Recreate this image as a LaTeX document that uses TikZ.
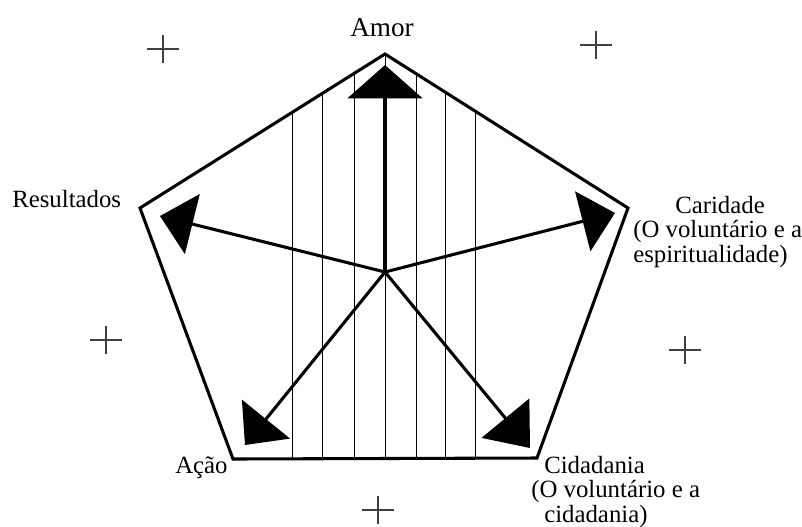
\documentclass[tikz,border=0pt]{standalone}
\usepackage{fontspec}
\setmainfont{Liberation Serif}
\usetikzlibrary{arrows.meta}

\begin{document}
\begin{tikzpicture}[
    x=0.75pt, y=-0.75pt,
    lbl/.style={font=\fontsize{18.6}{18.2}\selectfont, inner sep=0pt, align=left},
    edge/.style={line width=2.3pt},
    ar/.style={line width=2.3pt, -{Triangle[length=25pt, width=46pt]}},
    hatch/.style={line width=0.7pt},
    cross/.style={line width=1.4pt, black!75}
  ]
  \useasboundingbox (0,0) rectangle (802,526);
  % corners of the pentagon
  \coordinate (top) at (385,54);
  \coordinate (rgt) at (628,208);
  \coordinate (botr) at (537,458);
  \coordinate (botl) at (233,459);
  \coordinate (lft) at (140,208);
  \coordinate (c) at (385,272);
  % arrow tips
  \coordinate (tA) at (385,65);
  \coordinate (tC) at (615,213);
  \coordinate (tD) at (530,448);
  \coordinate (tE) at (245,445);
  \coordinate (tR) at (160,216);
  % vertical lines inside
  \begin{scope}
    \clip (top) -- (rgt) -- (botr) -- (botl) -- (lft) -- cycle;
    \foreach \x in {292,322,354,385,416,445,475}
      \draw[hatch] (\x,40) -- (\x,470);
  \end{scope}
  \draw[edge] (top) -- (rgt) -- (botr) -- (botl) -- (lft) -- cycle;
  \draw[ar, -{Triangle[length=25pt, width=56pt]}] (c) -- (tA);
  \draw[ar] (c) -- (tC);
  \draw[ar, -{Triangle[length=29pt, width=46pt]}] (c) -- (tD);
  \draw[ar] (c) -- (tE);
  \draw[ar] (c) -- (tR);
  % labels
  \node[lbl, anchor=base, font=\fontsize{20.4}{20}\selectfont] (amor) at (382,36) {Amor};
  \node[lbl, anchor=base west] (res) at (12,207) {Resultados};
  \node[lbl, anchor=base west] (car) at (633,262) {\hspace*{31.5pt}Caridade\\(O voluntário e a\\espiritualidade)};
  \node[lbl, anchor=base west] (acao) at (175,473) {Ação};
  \node[lbl, anchor=base west] (cid) at (544,522) {Cidadania\\\hspace*{-9.75pt}(O voluntário e a\\cidadania)};
  % crosses
  \foreach \px/\py in {163/49, 596/45, 106/340, 685/350, 378/510}
    \draw[cross] (\px-16,\py) -- (\px+16,\py) (\px,\py-14) -- (\px,\py+14);
\end{tikzpicture}
\end{document}
